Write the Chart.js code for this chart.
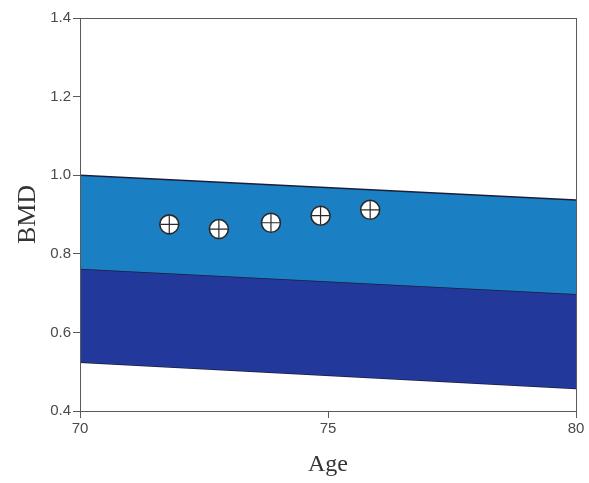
<!DOCTYPE html>
<html>
<head>
<meta charset="utf-8">
<script src="https://cdn.jsdelivr.net/npm/chart.js@4.4.1/dist/chart.umd.min.js"></script>
<style>
  html, body { margin: 0; padding: 0; background: #ffffff; }
  #wrap { width: 589px; height: 483px; }
</style>
</head>
<body>
<div id="wrap"><canvas id="c" width="589" height="483"></canvas></div>
<script>
// Reference band limits (BMD) at the ends of the age range
const bandAges = [70, 80];
const upperLimit = [1.0, 0.937];
const middleLimit = [0.762, 0.698];
const lowerLimit = [0.524, 0.457];

// Measured BMD by age
const ages = [71.8, 72.8, 73.85, 74.85, 75.85];
const bmd = [0.875, 0.863, 0.879, 0.897, 0.912];

// Axis ticks
const xTicks = [70, 75, 80];
const yTicks = [0.4, 0.6, 0.8, 1.0, 1.2, 1.4];

const lightBlue = '#1b80c3';
const darkBlue = '#22399b';
const edgeColor = '#1b1d3a';

const toPts = (xs, ys) => xs.map((x, i) => ({ x: x, y: ys[i] }));

const frame = {
  id: 'frame',
  afterDatasetsDraw(chart) {
    const a = chart.chartArea, ctx = chart.ctx;
    ctx.save();
    ctx.strokeStyle = '#5a5a5a';
    ctx.lineWidth = 1;
    ctx.strokeRect(Math.round(a.left) + 0.5, Math.round(a.top) + 0.5,
                   Math.round(a.right - a.left), Math.round(a.bottom - a.top));
    ctx.restore();
  }
};

new Chart(document.getElementById('c'), {
  type: 'line',
  data: {
    datasets: [
      {
        label: 'cross',
        data: toPts(ages, bmd),
        showLine: false,
        pointStyle: 'cross',
        pointRadius: 9,
        pointBorderColor: '#2a2a2a',
        pointBorderWidth: 1.2,
        order: 0
      },
      {
        label: 'BMD',
        data: toPts(ages, bmd),
        showLine: false,
        pointStyle: 'circle',
        pointRadius: 9.5,
        pointBackgroundColor: '#ffffff',
        pointBorderColor: '#2a2a2a',
        pointBorderWidth: 1.6,
        order: 1
      },
      {
        label: 'upper',
        data: toPts(bandAges, upperLimit),
        borderColor: edgeColor,
        borderWidth: 1.5,
        pointRadius: 0,
        fill: { target: 3 },
        backgroundColor: lightBlue,
        order: 2
      },
      {
        label: 'middle',
        data: toPts(bandAges, middleLimit),
        borderColor: edgeColor,
        borderWidth: 1.5,
        pointRadius: 0,
        fill: { target: 4 },
        backgroundColor: darkBlue,
        order: 3
      },
      {
        label: 'lower',
        data: toPts(bandAges, lowerLimit),
        borderColor: edgeColor,
        borderWidth: 1.5,
        pointRadius: 0,
        fill: false,
        order: 4
      }
    ]
  },
  options: {
    responsive: false,
    animation: false,
    events: [],
    layout: { padding: { top: 18, right: 13, left: 0, bottom: 0 } },
    plugins: {
      legend: { display: false },
      tooltip: { enabled: false }
    },
    scales: {
      x: {
        type: 'linear',
        min: 70,
        max: 80,
        afterBuildTicks(scale) { scale.ticks = xTicks.map(v => ({ value: v })); },
        afterFit(scale) { scale.height = 72; },
        grid: { drawOnChartArea: false, tickLength: 7, color: '#5a5a5a' },
        border: { color: '#5a5a5a' },
        ticks: {
          color: '#4a4a4a',
          font: { family: 'Liberation Sans, Arial, sans-serif', size: 15 },
          padding: 2,
          maxRotation: 0,
          callback: v => String(v)
        },
        title: {
          display: true,
          text: 'Age',
          color: '#333333',
          font: { family: 'Liberation Serif, Times New Roman, serif', size: 24 },
          padding: { top: 6 }
        }
      },
      y: {
        min: 0.4,
        max: 1.4,
        afterBuildTicks(scale) { scale.ticks = yTicks.map(v => ({ value: v })); },
        afterFit(scale) { scale.width = 80; },
        grid: { drawOnChartArea: false, tickLength: 7, color: '#5a5a5a' },
        border: { color: '#5a5a5a' },
        ticks: {
          color: '#4a4a4a',
          font: { family: 'Liberation Sans, Arial, sans-serif', size: 15 },
          padding: 2,
          callback: v => Number(v).toFixed(1)
        },
        title: {
          display: true,
          text: 'BMD',
          color: '#333333',
          font: { family: 'Liberation Serif, Times New Roman, serif', size: 26 },
          padding: { top: 13 }
        }
      }
    }
  },
  plugins: [frame]
});
</script>
</body>
</html>
